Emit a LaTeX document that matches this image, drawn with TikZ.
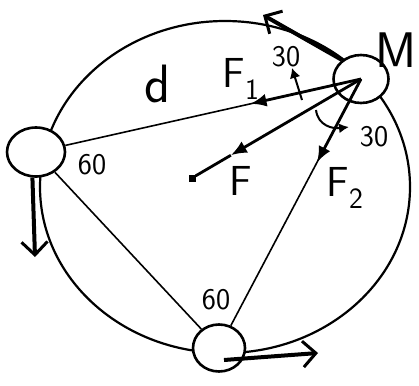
\documentclass[tikz,border=0pt]{standalone}
\usepackage{fontspec}
\usetikzlibrary{arrows.meta,calc,shapes.geometric}
\begin{document}
\begin{tikzpicture}[x=1pt,y=-1pt,
  ball/.style={ellipse,draw,line width=2.6pt,fill=white,inner sep=0pt},
  frc/.style={line width=2.8pt,-{Latex[length=16pt,width=13pt]}},
  vel/.style={line width=4pt,-{Straight Barb[length=13pt,width=26pt,line width=3pt]}},
  lbl/.style={inner sep=0pt,font=\sffamily\fontsize{42}{44}\selectfont},
  num/.style={inner sep=0pt,font=\sffamily\fontsize{30}{32}\selectfont}
]
  \useasboundingbox (0,0) rectangle (419,385);
  % orbit
  \draw[line width=2.2pt] (225,187) ellipse [x radius=185pt, y radius=166pt];
  % the three masses
  \node[ball,minimum width=55pt,minimum height=48pt] (M) at (361,79) {};
  \node[ball,minimum width=58pt,minimum height=49pt] (left) at (36,152) {};
  \node[ball,minimum width=52pt,minimum height=47pt] (bottom) at (219,348) {};
  \node[rectangle,fill,minimum size=7pt,inner sep=0pt] (O) at (192,178) {};
  % sides of the triangle
  \draw[line width=1.6pt] (left) -- (M.center);
  \draw[line width=1.6pt] (left) -- (bottom);
  \draw[line width=1.6pt] (bottom) -- (M.center);
  % forces on M
  \coordinate (tF1) at ($(M.center)!0.34!(left.center)$);
  \coordinate (tF2) at ($(M.center)!0.31!(bottom.center)$);
  \coordinate (tF) at ($(M.center)!0.77!(O)$);
  \draw[frc] (M.center) -- (tF1);
  \draw[frc] (M.center) -- (tF2);
  \draw[frc] (M.center) -- (tF);
  \draw[line width=2.8pt] (tF) -- (O);
  % angle marks
  \coordinate (u0) at (302,100);
  \coordinate (u1) at (292,68);
  \draw[line width=2pt,-{Latex[length=10pt,width=11pt]}] (u0) -- (u1);
  \coordinate (w0) at (316,110);
  \coordinate (w1) at (349,127);
  \draw[line width=2pt,-{Latex[length=10pt,width=10pt]}] (w0) .. controls (318,126) and (333,129) .. (w1);
  % velocities
  \coordinate (vM) at (263,15);
  \coordinate (vL) at (35,257);
  \coordinate (vB) at (318,353);
  \coordinate (bB) at (224,360);
  \draw[vel] (M.135) -- (vM);
  \draw[vel] (left.262) -- (vL);
  \draw[vel] (bB) -- (vB);
  % labels
  \node[lbl,font=\sffamily\fontsize{50}{52}\selectfont] (lM) at (396,50) {M};
  \node[lbl,font=\sffamily\fontsize{54}{56}\selectfont] (ld) at (158,84) {d};
  \node[lbl] (lF1) at (241,79) {F\textsubscript{1}};
  \node[lbl] (lF) at (241,181) {F};
  \node[lbl] (lF2) at (345,188) {F\textsubscript{2}};
  \node[num] (n1) at (286,57) {30};
  \node[num] (n2) at (374,137) {30};
  \node[num] (n3) at (92,165) {60};
  \node[num] (n4) at (216,300) {60};
\end{tikzpicture}
\end{document}
